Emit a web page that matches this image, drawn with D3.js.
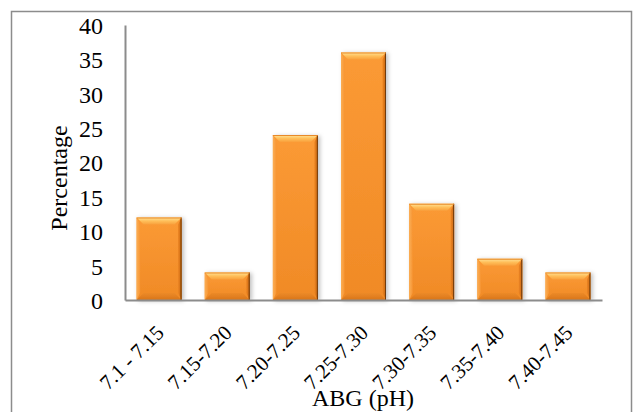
<!DOCTYPE html>
<html>
<head>
<meta charset="utf-8">
<script src="https://cdn.jsdelivr.net/npm/d3@7/dist/d3.min.js"></script>
<style>
  html, body { margin: 0; padding: 0; background: #fff; }
  svg { display: block; font-family: "Liberation Serif", "Times New Roman", serif; }
</style>
</head>
<body>
<svg id="chart" width="634" height="412"></svg>
<script>
// pH ranges and share of patients (%)
const categories = ["7.1 - 7.15", "7.15-7.20", "7.20-7.25", "7.25-7.30", "7.30-7.35", "7.35-7.40", "7.40-7.45"];
const percentages = [12, 4, 24, 36, 14, 6, 4];
const yTicks = [0, 5, 10, 15, 20, 25, 30, 35, 40];
const xTitle = "ABG (pH)";
const yTitle = "Percentage";

const FONT = "Liberation Serif, Times New Roman, serif";
const FS = 24;       // axis titles and value ticks
const FS_CAT = 21;   // slanted category labels

const svg = d3.select("#chart");
const plot = { left: 125, right: 602, top: 25, bottom: 300 };

// outer chart frame (bottom edge sits off-canvas)
svg.append("rect")
  .attr("x", 11.5).attr("y", 11.5)
  .attr("width", 620).attr("height", 420)
  .attr("fill", "#fff").attr("stroke", "#8c8c8c").attr("stroke-width", 1.5);

const x = d3.scaleBand().domain(categories).range([plot.left, plot.right]).paddingInner(0.34).paddingOuter(0.17);
const y = d3.scaleLinear().domain([0, 40]).range([plot.bottom, plot.top]);

const defs = svg.append("defs");
const grad = (id, stops, x2, y2) => {
  const g = defs.append("linearGradient").attr("id", id)
    .attr("x1", 0).attr("y1", 0).attr("x2", x2).attr("y2", y2);
  stops.forEach(([o, c]) => g.append("stop").attr("offset", o).attr("stop-color", c));
};
grad("face", [[0, "#fb9a35"], [1, "#f08a26"]], 0, 1);
grad("bevTop", [[0, "#ffe49a"], [0.5, "#ffbf5a"], [1, "#f9a03c"]], 0, 1);
grad("bevBot", [[0, "#ec8a28"], [1, "#d97518"]], 0, 1);
grad("bevLeft", [[0, "#fbae55"], [1, "#f79634"]], 1, 0);
grad("bevRight", [[0, "#ec8524"], [1, "#c96812"]], 1, 0);

const filt = defs.append("filter").attr("id", "shadow").attr("x", "-20%").attr("y", "-20%").attr("width", "150%").attr("height", "150%");
filt.append("feDropShadow").attr("dx", 2).attr("dy", 1).attr("stdDeviation", 2).attr("flood-color", "#000").attr("flood-opacity", 0.25);

const bev = 7;
const bars = svg.append("g").selectAll("g").data(categories).join("g")
  .attr("filter", "url(#shadow)");

bars.each(function (c, i) {
  const g = d3.select(this);
  const x0 = x(c), w = x.bandwidth(), x1 = x0 + w;
  const t = y(percentages[i]), b = y(0);
  const d = Math.min(bev, (b - t) / 2);
  g.append("rect").attr("x", x0).attr("y", t).attr("width", w).attr("height", b - t).attr("fill", "url(#face)");
  const poly = (pts, fill) => g.append("polygon").attr("points", pts.map(p => p.join(",")).join(" ")).attr("fill", fill);
  poly([[x0, t], [x1, t], [x1 - d, t + d], [x0 + d, t + d]], "url(#bevTop)");
  poly([[x0, b], [x1, b], [x1 - d, b - d], [x0 + d, b - d]], "url(#bevBot)");
  poly([[x0, t], [x0 + d * 0.5, t + d], [x0 + d * 0.5, b - d], [x0, b]], "url(#bevLeft)");
  poly([[x1, t], [x1 - d * 0.5, t + d], [x1 - d * 0.5, b - d], [x1, b]], "url(#bevRight)");
  g.append("line").attr("x1", x1 - 0.5).attr("x2", x1 - 0.5).attr("y1", t).attr("y2", b).attr("stroke", "#6e3a08").attr("stroke-width", 1);
  g.append("line").attr("x1", x0).attr("x2", x1).attr("y1", t + 0.5).attr("y2", t + 0.5).attr("stroke", "#e88a2a").attr("stroke-width", 1);
});

// axes
const yAxis = d3.axisLeft(y).tickValues(yTicks).tickSize(0).tickPadding(22);
const yg = svg.append("g").attr("transform", `translate(${plot.left},0)`).call(yAxis);
yg.select(".domain").attr("stroke", "#8c8c8c").attr("stroke-width", 2);
yg.selectAll("text").attr("font-size", FS).attr("fill", "#000")
  .attr("font-family", FONT).attr("dy", "0.35em");

const xAxis = d3.axisBottom(x).tickSize(0).tickPadding(0);
const xg = svg.append("g").attr("transform", `translate(0,${plot.bottom})`).call(xAxis);
xg.select(".domain").attr("stroke", "#8c8c8c").attr("stroke-width", 2);
xg.selectAll("text").attr("font-size", FS_CAT).attr("fill", "#000")
  .attr("font-family", FONT)
  .attr("text-anchor", "end")
  .attr("dy", 0)
  .attr("transform", "translate(6,34) rotate(-45)");

svg.append("text").attr("x", 363).attr("y", 406).attr("text-anchor", "middle")
  .attr("font-family", FONT).attr("font-size", FS).text(xTitle);
svg.append("text").attr("transform", "translate(67,178) rotate(-90)").attr("text-anchor", "middle")
  .attr("font-family", FONT).attr("font-size", FS).text(yTitle);
</script>
</body>
</html>
